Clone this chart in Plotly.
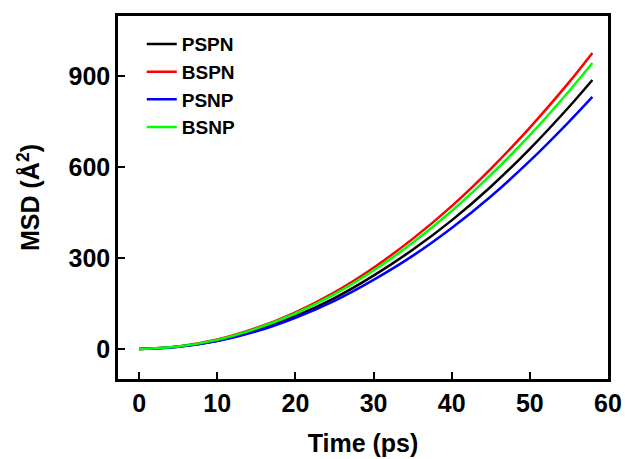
import plotly.graph_objects as go

time_ps = [0, 5, 10, 15, 20, 25, 30, 35, 40, 45, 50, 55, 58]
pspn = [0, 7, 27, 61, 108, 168, 242, 327, 424, 535, 660, 798, 887]
bspn = [0, 8, 31, 69, 121, 187, 268, 363, 471, 594, 730, 879, 976]
psnp = [0, 7, 26, 58, 103, 159, 228, 307, 399, 503, 620, 749, 831]
bsnp = [0, 8, 30, 67, 117, 181, 259, 350, 455, 574, 705, 850, 943]

series = [("PSPN", pspn, "#000000"), ("BSPN", bspn, "#ff0000"),
          ("PSNP", psnp, "#0000ff"), ("BSNP", bsnp, "#00ff00")]

fig = go.Figure()
for name, vals, col in series:
    fig.add_trace(go.Scatter(x=time_ps, y=vals, mode="lines", name=name,
                             line=dict(color=col, width=2.5, shape="spline")))

fam = "Liberation Sans, Arial, sans-serif"
fig.update_layout(
    width=625, height=459,
    margin=dict(l=118, r=17, t=16, b=80),
    plot_bgcolor="white", paper_bgcolor="white",
    font=dict(family=fam, color="black"),
    showlegend=True,
    legend=dict(x=0.0485, y=0.975, xanchor="left", yanchor="top",
                bgcolor="rgba(0,0,0,0)", borderwidth=0,
                font=dict(size=19, weight="bold", family=fam),
                tracegroupgap=0),
    xaxis=dict(range=[-2.7, 60], tickvals=[0, 10, 20, 30, 40, 50, 60],
               ticks="inside", ticklen=7, tickwidth=2, tickcolor="black",
               showline=True, linewidth=2.5, linecolor="black", mirror=True,
               showgrid=False, zeroline=False, automargin=False,
               tickfont=dict(size=25, weight="bold", family=fam),
               title=dict(text="Time (ps)", standoff=19,
                          font=dict(size=25, weight="bold", family=fam))),
    yaxis=dict(range=[-99, 1098], tickvals=[0, 300, 600, 900],
               ticks="inside", ticklen=7, tickwidth=2, tickcolor="black",
               showline=True, linewidth=2.5, linecolor="black", mirror=True,
               showgrid=False, zeroline=False, automargin=False,
               tickfont=dict(size=25, weight="bold", family=fam),
               title=dict(text="MSD (Å<sup>2</sup>)", standoff=22,
                          font=dict(size=25, weight="bold", family=fam))),
)
fig.write_html("out.html", config={"displayModeBar": False},
               post_script="document.body.style.margin='0';document.body.style.overflow='hidden';")
